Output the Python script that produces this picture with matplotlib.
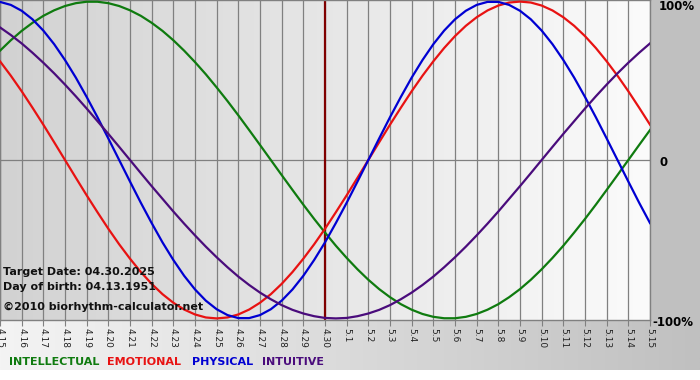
import numpy as np
import matplotlib
matplotlib.use('Agg')
import matplotlib.pyplot as plt
from matplotlib.colors import LinearSegmentedColormap
from matplotlib.patches import Rectangle

# days shown on the x axis
days = ['4.15', '4.16', '4.17', '4.18', '4.19', '4.20', '4.21', '4.22', '4.23', '4.24',
        '4.25', '4.26', '4.27', '4.28', '4.29', '4.30', '5.1', '5.2', '5.3', '5.4',
        '5.5', '5.6', '5.7', '5.8', '5.9', '5.10', '5.11', '5.12', '5.13', '5.14', '5.15']
target_day = '4.30'
samples_per_day = 2   # values below are read every half day

# cycle values (-1 .. 1)
intellectual = [0.690, 0.756, 0.815, 0.866, 0.910, 0.945, 0.972, 0.990, 0.999, 0.999,
                0.990, 0.972, 0.945, 0.910, 0.866, 0.815, 0.756, 0.690, 0.618, 0.541,
                0.458, 0.372, 0.282, 0.189, 0.095, 0.0, -0.095, -0.189, -0.282, -0.372,
                -0.458, -0.541, -0.618, -0.690, -0.756, -0.815, -0.866, -0.910, -0.945, -0.972,
                -0.990, -0.999, -0.999, -0.990, -0.972, -0.945, -0.910, -0.866, -0.815, -0.756,
                -0.690, -0.618, -0.541, -0.458, -0.372, -0.282, -0.189, -0.095, 0.0, 0.095,
                0.189]
emotional = [0.623, 0.532, 0.434, 0.330, 0.223, 0.112, 0.0, -0.112, -0.223, -0.330,
             -0.434, -0.532, -0.623, -0.707, -0.782, -0.847, -0.901, -0.944, -0.975, -0.994,
             -1.0, -0.994, -0.975, -0.944, -0.901, -0.847, -0.782, -0.707, -0.623, -0.532,
             -0.434, -0.330, -0.223, -0.112, 0.0, 0.112, 0.223, 0.330, 0.434, 0.532,
             0.623, 0.707, 0.782, 0.847, 0.901, 0.944, 0.975, 0.994, 1.0, 0.994,
             0.975, 0.944, 0.901, 0.847, 0.782, 0.707, 0.623, 0.532, 0.434, 0.330,
             0.223]
physical = [0.998, 0.979, 0.942, 0.888, 0.817, 0.731, 0.631, 0.520, 0.398, 0.270,
            0.136, 0.0, -0.136, -0.270, -0.398, -0.520, -0.631, -0.731, -0.817, -0.888,
            -0.942, -0.979, -0.998, -0.998, -0.979, -0.942, -0.888, -0.817, -0.731, -0.631,
            -0.520, -0.398, -0.270, -0.136, 0.0, 0.136, 0.270, 0.398, 0.520, 0.631,
            0.731, 0.817, 0.888, 0.942, 0.979, 0.998, 0.998, 0.979, 0.942, 0.888,
            0.817, 0.731, 0.631, 0.520, 0.398, 0.270, 0.136, 0.0, -0.136, -0.270,
            -0.398]
intuitive = [0.837, 0.789, 0.736, 0.677, 0.614, 0.547, 0.476, 0.402, 0.325, 0.245,
             0.165, 0.083, 0.0, -0.083, -0.165, -0.245, -0.325, -0.402, -0.476, -0.547,
             -0.614, -0.677, -0.736, -0.789, -0.837, -0.879, -0.916, -0.946, -0.969, -0.986,
             -0.997, -1.0, -0.997, -0.986, -0.969, -0.946, -0.916, -0.879, -0.837, -0.789,
             -0.736, -0.677, -0.614, -0.547, -0.476, -0.402, -0.325, -0.245, -0.165, -0.083,
             0.0, 0.083, 0.165, 0.245, 0.325, 0.402, 0.476, 0.547, 0.614, 0.677,
             0.736]

series = [('INTELLECTUAL', intellectual, '#0f7b0f'),
          ('EMOTIONAL', emotional, '#e81212'),
          ('PHYSICAL', physical, '#0000d2'),
          ('INTUITIVE', intuitive, '#4a0c7c')]

W, H = 700, 380
fig = plt.figure(figsize=(7, 3.8), dpi=100)
fig.patch.set_facecolor('white')

# background: gray right margin + gradient strip under the plot
bg = fig.add_axes([0, 0, 1, 1], zorder=0)
bg.axis('off')
strip_cmap = LinearSegmentedColormap.from_list('strip', ['#f4f4f4', '#c0c0c0'])
bg.imshow(np.linspace(0, 1, 256)[None, :], extent=[0, W, 370, 320], cmap=strip_cmap,
          aspect='auto')
bg.add_patch(Rectangle((650, 0), 50, 320, color='#c0c0c0', lw=0))
bg.set_xlim(0, W)
bg.set_ylim(H, 0)

ax = fig.add_axes([0, 60 / H, 650 / W, 320 / H], zorder=1)
plot_cmap = LinearSegmentedColormap.from_list('plot', ['#d2d2d2', '#fbfbfb'])
x = np.arange(len(days))
ax.imshow(np.linspace(0, 1, 256)[None, :], extent=[0, len(days) - 1, -1.01, 1.01],
          cmap=plot_cmap, aspect='auto', zorder=0)

ax.grid(axis='x', color='#808080', lw=0.9)
ax.axhline(0, color='#808080', lw=0.9, zorder=1)
ax.axvline(days.index(target_day), color='#800000', lw=1.6, zorder=2)

for name, vals, col in series:
    t = np.arange(len(vals)) / samples_per_day
    ax.plot(t, vals, color=col, lw=1.6, zorder=3)

ax.set_xlim(0, len(days) - 1)
ax.set_ylim(-1.01, 1.01)
ax.set_xticks(x, days, rotation=-90, fontsize=6.5)
ax.set_yticks([])
ax.tick_params(axis='x', length=4, width=0.8, color='#808080', pad=1.5, labelcolor='#222222')
for s in ax.spines.values():
    s.set_color('#808080')
    s.set_linewidth(1)

# right side labels
fig.text(659 / W, 1 - 7 / H, '100%', fontsize=8.5, fontweight='bold', va='center')
fig.text(660 / W, 1 - 162 / H, '0', fontsize=8.5, fontweight='bold', va='center')
fig.text(652 / W, 1 - 322 / H, '-100%', fontsize=8.5, fontweight='bold', va='center')

# info text
info = ['Target Date: 04.30.2025', 'Day of birth: 04.13.1951', '\u00a92010 biorhythm-calculator.net']
for txt, yp in zip(info, [272, 287, 307]):
    fig.text(3 / W, 1 - yp / H, txt, fontsize=8, fontweight='bold', va='center', color='#111111')

# legend words
for (name, vals, col), xp in zip(series, [9, 107, 192, 262]):
    fig.text(xp / W, 1 - 362 / H, name, fontsize=8, fontweight='bold', va='center', color=col)

plt.savefig('out.png', dpi=100)
plt.close()
